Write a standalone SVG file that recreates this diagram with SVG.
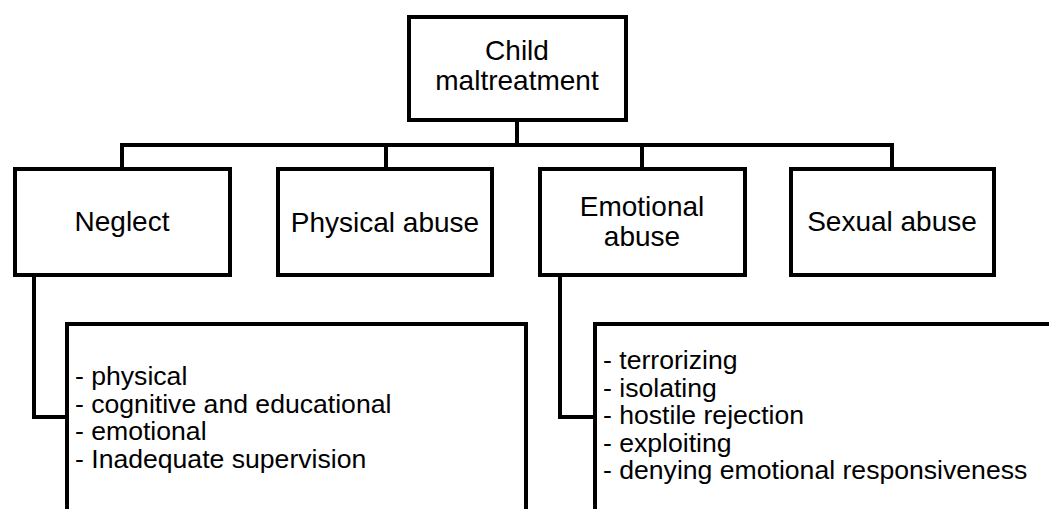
<svg xmlns="http://www.w3.org/2000/svg" width="1049" height="509" viewBox="0 0 1049 509">
  <style>
    .box { fill: #ffffff; stroke: #000000; stroke-width: 4; }
    .conn { fill: none; stroke: #000000; stroke-width: 4; stroke-linejoin: miter; stroke-linecap: square; }
    .lbl { font-family: "Liberation Sans", Arial, sans-serif; font-size: 28px; fill: #000000; text-anchor: middle; }
    .lst { font-family: "Liberation Sans", Arial, sans-serif; font-size: 26.6px; fill: #000000; }
  </style>
  <rect x="0" y="0" width="1049" height="509" fill="#ffffff"/>
  <g id="connectors">
    <path class="conn" d="M517 122 V145"/>
    <path class="conn" d="M122 167 V145 H892 V167"/>
    <path class="conn" d="M386 145 V167"/>
    <path class="conn" d="M642 145 V167"/>
    <path class="conn" d="M34 277 V417 H65"/>
    <path class="conn" d="M560 277 V417 H593"/>
  </g>
  <g id="root">
    <rect class="box" x="409" y="17" width="217" height="103"/>
    <text class="lbl" x="517" y="60">Child</text>
    <text class="lbl" x="517" y="90">maltreatment</text>
  </g>
  <g id="neglect">
    <rect class="box" x="15" y="169" width="215" height="106"/>
    <text class="lbl" x="122" y="231">Neglect</text>
  </g>
  <g id="physical">
    <rect class="box" x="278" y="169" width="214" height="106"/>
    <text class="lbl" x="385" y="232">Physical abuse</text>
  </g>
  <g id="emotional">
    <rect class="box" x="540" y="169" width="205" height="106"/>
    <text class="lbl" x="642" y="216">Emotional</text>
    <text class="lbl" x="642" y="246">abuse</text>
  </g>
  <g id="sexual">
    <rect class="box" x="791" y="169" width="203" height="106"/>
    <text class="lbl" x="892" y="231">Sexual abuse</text>
  </g>
  <g id="neglect-list">
    <rect class="box" x="67" y="324" width="459" height="300"/>
    <text class="lst" x="75" y="385">- physical</text>
    <text class="lst" x="75" y="412.5">- cognitive and educational</text>
    <text class="lst" x="75" y="440">- emotional</text>
    <text class="lst" x="75" y="467.5">- Inadequate supervision</text>
  </g>
  <g id="emotional-list">
    <rect class="box" x="595" y="324" width="500" height="300"/>
    <text class="lst" x="603" y="369">- terrorizing</text>
    <text class="lst" x="603" y="396.5">- isolating</text>
    <text class="lst" x="603" y="424">- hostile rejection</text>
    <text class="lst" x="603" y="451.5">- exploiting</text>
    <text class="lst" x="603" y="479">- denying emotional responsiveness</text>
  </g>
</svg>
